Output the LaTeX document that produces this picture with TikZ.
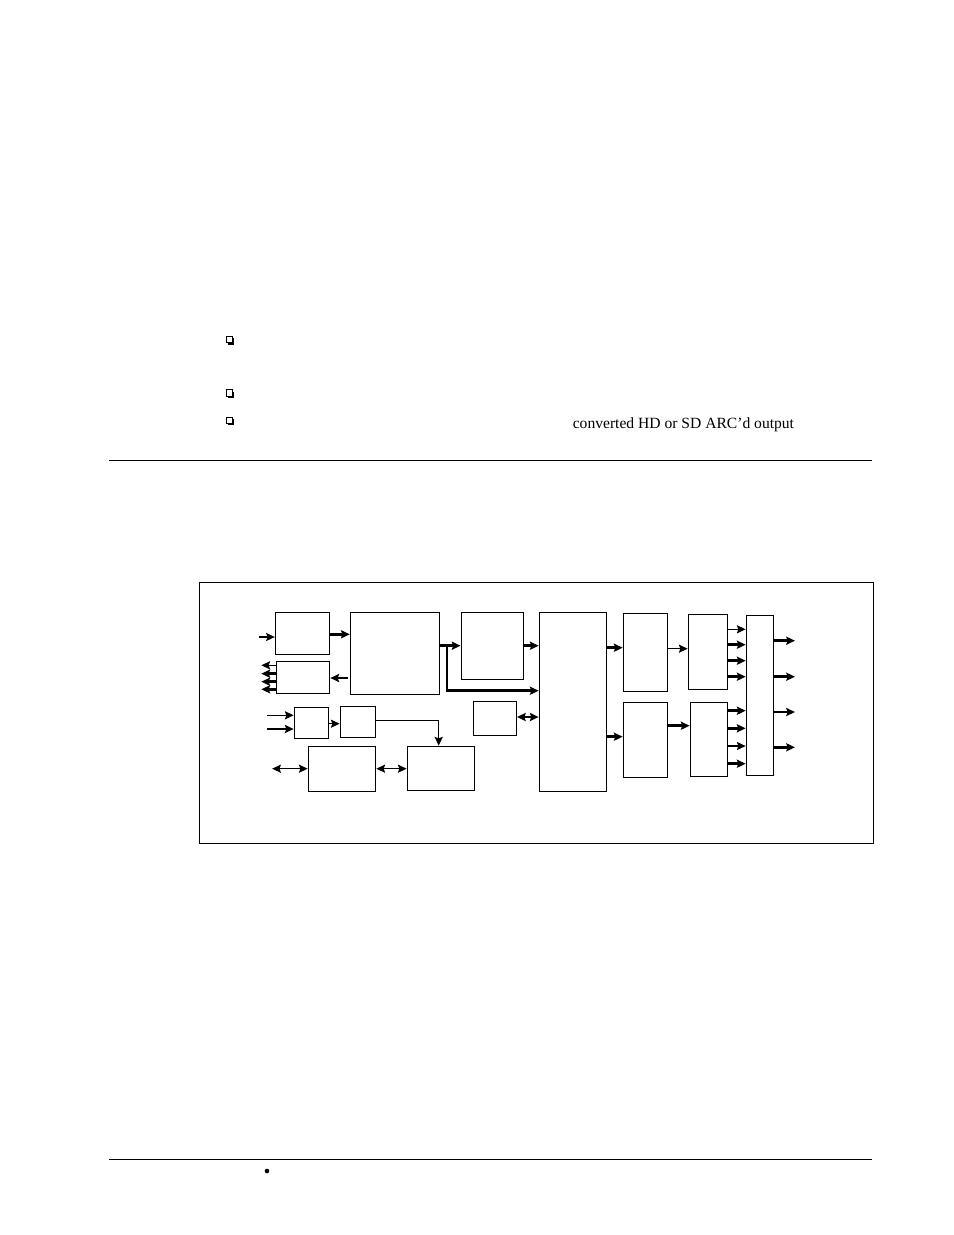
\documentclass[tikz,border=0pt]{standalone}
\usepackage{fontspec}
\setmainfont{Liberation Serif}
\usetikzlibrary{arrows.meta}

\newcommand{\px}{0.6415pt}

\begin{document}
\begin{tikzpicture}[x=\px, y=-\px, >={Stealth[length=5.6pt,width=5.2pt,inset=0.9pt]},
    blk/.style 2 args={draw, line width=0.85pt, inner sep=0pt, minimum width=#1*\px, minimum height=#2*\px},
    sig/.style={line width=0.75pt},
    bus/.style={line width=1.6pt},
    rule/.style={line width=0.7pt}]

    \useasboundingbox (0,0) rectangle (954,1235);

    % page text
    \foreach \by in {340.5, 393.7, 421} {
        \fill (228.2,\by-2.2) rectangle (234.4,\by+4.1);
        \filldraw[fill=white, line width=0.6pt] (226.6,\by-3.8) rectangle (232.7,\by+2.4);
    }
    \node[anchor=base west, inner sep=0pt, font=\fontsize{10}{12}\selectfont] (note) at (572.5,428.3) {converted HD or SD ARC'd output};
    \draw[rule] (109,460.3) -- (872,460.3);
    \draw[rule] (109,1159.3) -- (872,1159.3);
    \fill (267,1171) circle (2.3);

    % frame
    \draw[rule] (199.7,582.7) rectangle (873.4,843.6);

    % blocks
    \node[blk={54.2}{42.2}] (A) at (302.6,633.5) {};
    \node[blk={53.2}{32.2}] (B) at (303.1,677.5) {};
    \node[blk={89}{82}]   (C) at (394.9,653.3) {};
    \node[blk={62}{67}]   (D) at (492.2,645.8) {};
    \node[blk={43}{34}]   (F) at (494.8,718.3) {};
    \node[blk={34.4}{31}] (G) at (311.5,722.8) {};
    \node[blk={35.4}{31}] (H) at (358,721.8) {};
    \node[blk={67.4}{45}] (I) at (342,768.8) {};
    \node[blk={67}{44}]   (J) at (440.8,768.3) {};
    \node[blk={67.4}{179}] (E) at (573,701.8) {};
    \node[blk={44.4}{78}] (K) at (645.5,652.3) {};
    \node[blk={44.4}{75}] (L) at (645.5,739.8) {};
    \node[blk={39}{75}]   (M) at (707.8,651.8) {};
    \node[blk={37}{74}]   (N) at (708.8,739.3) {};
    \node[blk={27}{160}]  (P) at (759.8,695.3) {};

    % left side
    \draw[sig,->] (A.west |- 0,637) ++(-16,0) -- (A.west |- 0,637);
    \draw[bus,->] (A.east |- 0,634.3) -- (C.west |- 0,634.3);
    \draw[bus,->] ([xshift=-2*\px]C.west |- 0,678) -- (B.east |- 0,678);
    \foreach \yy/\w in {665.3/sig, 673.7/bus, 681.7/bus, 689.3/bus}
        \draw[\w,->] (B.west |- 0,\yy) -- ++(-14.5,0);
    \draw[sig,->] (G.west |- 0,715.3) ++(-27,0) -- (G.west |- 0,715.3);
    \draw[bus,->] (G.west |- 0,729) ++(-27,0) -- (G.west |- 0,729);
    \draw[sig,->] (G.east |- 0,723.7) -- (H.west |- 0,723.7);
    \draw[line width=1pt,->] (H.east |- 0,720.3) -| (438.7,0 |- J.north);
    \draw[sig,<->] (I.west |- 0,768.7) -- ++(-35.5,0);
    \draw[sig,<->] (I.east |- 0,768.7) -- (J.west |- 0,768.7);

    % middle
    \draw[bus,->] (C.east |- 0,645.7) -- (D.west |- 0,645.7);
    \draw[bus,->] (447,645.7) |- (E.west |- 0,690.7);
    \draw[bus,->] (D.east |- 0,645.7) -- (E.west |- 0,645.7);
    \draw[bus,<->] (F.east |- 0,717) -- (E.west |- 0,717);

    % right side
    \draw[bus,->] (E.east |- 0,647.7) -- (K.west |- 0,647.7);
    \draw[bus,->] (E.east |- 0,736.7) -- (L.west |- 0,736.7);
    \draw[sig,->] (K.east |- 0,648.7) -- (M.west |- 0,648.7);
    \draw[bus,->] (L.east |- 0,725.7) -- (N.west |- 0,725.7);
    \foreach \yy/\w in {629.3/sig, 644.7/bus, 660.7/bus, 676.7/bus}
        \draw[\w,->] (M.east |- 0,\yy) -- (P.west |- 0,\yy);
    \foreach \yy/\w in {710.7/bus, 728.3/bus, 746/sig, 763.7/bus}
        \draw[\w,->] (N.east |- 0,\yy) -- (P.west |- 0,\yy);
    \foreach \yy in {640.7, 676.7, 712, 747.3}
        \draw[bus,->] (P.east |- 0,\yy) -- ++(21,0);

\end{tikzpicture}
\end{document}
